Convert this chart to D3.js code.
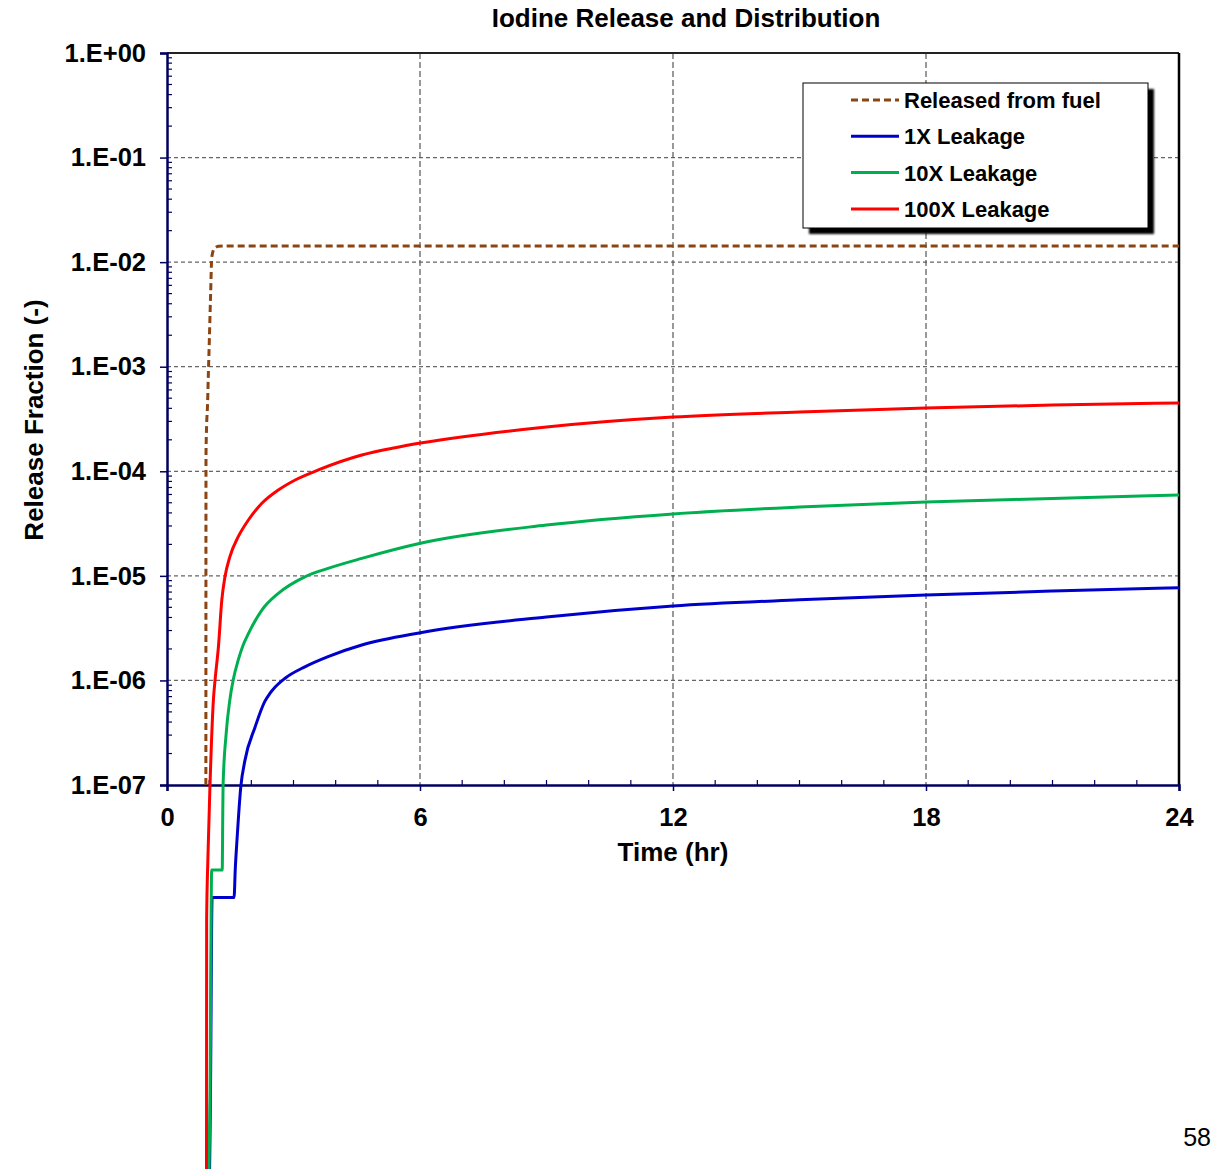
<!DOCTYPE html>
<html>
<head>
<meta charset="utf-8">
<script src="https://cdn.jsdelivr.net/npm/d3@7"></script>
<style>
  html, body { margin: 0; padding: 0; background: #fff; }
  svg { display: block; font-family: "Liberation Sans", Arial, sans-serif; }
</style>
</head>
<body>
<svg id="chart" width="1213" height="1169"></svg>
<script>
// ---- data ----
const chartTitle = "Iodine Release and Distribution";
const xTitle = "Time (hr)";
const yTitle = "Release Fraction (-)";
const xTicks = [0, 6, 12, 18, 24];
const yTicks = [1e-7, 1e-6, 1e-5, 1e-4, 1e-3, 1e-2, 1e-1, 1];
const yTickLabels = ["1.E-07", "1.E-06", "1.E-05", "1.E-04", "1.E-03", "1.E-02", "1.E-01", "1.E+00"];
const seriesNames = ["Released from fuel", "1X Leakage", "10X Leakage", "100X Leakage"];

// time (hr) / value pairs
const fuelT = [0.922, 0.925, 0.94, 0.96, 0.98, 1.003, 1.036, 1.06, 1.10, 1.15, 1.22, 1.33, 24];
const fuelV = [1e-7, 1.43e-4, 2.77e-4, 4.2e-4, 8.3e-4, 1.73e-3, 5.2e-3, 1.08e-2, 1.30e-2, 1.38e-2, 1.42e-2, 1.43e-2, 1.43e-2];

const x1T = [0.95, 1.03, 1.07, 1.59, 1.62, 1.66, 1.75, 1.85, 2.09, 2.32, 2.44, 2.56, 2.80, 3.27, 3.82, 4.62, 6.01, 9, 12, 15, 18, 21, 24];
const x1V = [1e-12, 1e-10, 8.4e-9, 8.4e-9, 1.6e-8, 2.98e-8, 9.6e-8, 1.73e-7, 3.59e-7, 6.3e-7, 7.5e-7, 8.6e-7, 1.05e-6, 1.35e-6, 1.69e-6, 2.18e-6, 2.86e-6, 4.04e-6, 5.15e-6, 5.9e-6, 6.56e-6, 7.15e-6, 7.7e-6];

const x10T = [0.95, 1.02, 1.06, 1.31, 1.32, 1.33, 1.40, 1.49, 1.57, 1.69, 1.80, 1.93, 2.25, 2.64, 3.27, 3.82, 4.62, 6.01, 9, 12, 15, 18, 21, 24];
const x10V = [1e-12, 1e-10, 1.54e-8, 1.54e-8, 4e-8, 1e-7, 3e-7, 6.5e-7, 1.01e-6, 1.57e-6, 2.15e-6, 2.8e-6, 4.71e-6, 6.81e-6, 9.8e-6, 1.18e-5, 1.47e-5, 2.05e-5, 3.06e-5, 3.91e-5, 4.55e-5, 5.08e-5, 5.5e-5, 5.93e-5];

const x100T = [0.935, 0.94, 0.97, 1.02, 1.10, 1.14, 1.22, 1.30, 1.375, 1.49, 1.69, 1.93, 2.25, 2.64, 3.04, 3.59, 4.62, 5.41, 6.01, 9, 12, 15, 18, 21, 24];
const x100V = [1e-12, 5.1e-9, 2e-8, 1e-7, 6.5e-7, 1.01e-6, 2.1e-6, 5.88e-6, 9.8e-6, 1.52e-5, 2.37e-5, 3.42e-5, 4.94e-5, 6.62e-5, 8.26e-5, 1.03e-4, 1.43e-4, 1.68e-4, 1.86e-4, 2.65e-4, 3.30e-4, 3.69e-4, 4.03e-4, 4.3e-4, 4.50e-4];

// ---- layout ----
const svg = d3.select("#chart");
const L = 167, R = 1179, T = 53, B = 785;
const x = d3.scaleLinear().domain([0, 24]).range([L, R]);
const y = d3.scaleLog().domain([1e-7, 1]).range([B, T]);
const navy = "#000060";
const FF = "Liberation Sans, Arial, sans-serif";

// title
svg.append("text").attr("x", 686).attr("y", 27).attr("text-anchor", "middle")
  .attr("font-size", 26).attr("font-weight", "bold").text(chartTitle);

// gridlines
const gridY = yTicks.filter(v => v > 1e-7 && v < 1);
svg.append("g").selectAll("line").data(gridY).join("line")
  .attr("x1", L).attr("x2", R).attr("y1", d => y(d)).attr("y2", d => y(d))
  .attr("stroke", "#666").attr("stroke-width", 1.2).attr("stroke-dasharray", "4,3");
svg.append("g").selectAll("line").data(xTicks.filter(v => v > 0 && v < 24)).join("line")
  .attr("y1", T).attr("y2", B).attr("x1", d => x(d)).attr("x2", d => x(d))
  .attr("stroke", "#555").attr("stroke-width", 1.2).attr("stroke-dasharray", "6,3");

// top and right border
svg.append("line").attr("x1", L).attr("x2", R).attr("y1", T).attr("y2", T).attr("stroke", "#222").attr("stroke-width", 2);
svg.append("line").attr("x1", R).attr("x2", R).attr("y1", T).attr("y2", B).attr("stroke", "#000").attr("stroke-width", 2.5);

// minor ticks
const minorY = [];
for (let e = -7; e < 0; e++) for (let m = 2; m <= 9; m++) minorY.push(m * Math.pow(10, e));
svg.append("g").selectAll("line").data(minorY).join("line")
  .attr("x1", L).attr("x2", L + 5).attr("y1", d => y(d)).attr("y2", d => y(d))
  .attr("stroke", navy).attr("stroke-width", 1.2);
const minorX = d3.range(1, 24).filter(v => v % 6 !== 0);
svg.append("g").selectAll("line").data(minorX).join("line")
  .attr("x1", d => x(d)).attr("x2", d => x(d)).attr("y1", B).attr("y2", B - 5)
  .attr("stroke", navy).attr("stroke-width", 1.2);

// axes
const yAxis = d3.axisLeft(y).tickValues(yTicks).tickFormat((d, i) => yTickLabels[i]).tickSize(7).tickPadding(14);
const gy = svg.append("g").attr("transform", `translate(${L},0)`).call(yAxis);
gy.select(".domain").attr("stroke", navy).attr("stroke-width", 2.5);
gy.selectAll(".tick line").attr("stroke", navy).attr("stroke-width", 1.5);
gy.selectAll(".tick text").attr("font-size", 25.5).attr("font-weight", "bold").attr("fill", "#000")
  .attr("font-family", FF);

const xAxis = d3.axisBottom(x).tickValues(xTicks).tickFormat(d3.format("d")).tickSize(6).tickPadding(17);
const gx = svg.append("g").attr("transform", `translate(0,${B})`).call(xAxis);
gx.select(".domain").attr("stroke", navy).attr("stroke-width", 2.5);
gx.selectAll(".tick line").attr("stroke", navy).attr("stroke-width", 1.5);
gx.selectAll(".tick text").attr("font-size", 25.5).attr("font-weight", "bold").attr("fill", "#000")
  .attr("font-family", FF);

// axis titles
svg.append("text").attr("x", 673).attr("y", 861).attr("text-anchor", "middle")
  .attr("font-size", 26).attr("font-weight", "bold").text(xTitle);
svg.append("text").attr("transform", "translate(43,420) rotate(-90)").attr("text-anchor", "middle")
  .attr("font-size", 26).attr("font-weight", "bold").text(yTitle);

// lines
const line = d3.line().x(d => x(d[0])).y(d => y(d[1])).curve(d3.curveMonotoneX);
const zip = (a, b) => a.map((t, i) => [t, b[i]]);
const series = [
  { t: x1T, v: x1V, color: "#0000CC", dash: null },
  { t: x10T, v: x10V, color: "#00B050", dash: null },
  { t: x100T, v: x100V, color: "#FF0000", dash: null },
  { t: fuelT, v: fuelV, color: "#8B4513", dash: "7,4" }
];
svg.append("g").selectAll("path").data(series).join("path")
  .attr("d", s => line(zip(s.t, s.v)))
  .attr("fill", "none").attr("stroke", s => s.color).attr("stroke-width", 3)
  .attr("stroke-dasharray", s => s.dash).attr("stroke-linejoin", "round");

// legend
const defs = svg.append("defs");
const f = defs.append("filter").attr("id", "blur").attr("x", "-10%").attr("y", "-10%").attr("width", "130%").attr("height", "130%");
f.append("feGaussianBlur").attr("stdDeviation", 1.2);
const lx = 803, ly = 83, lw = 345, lh = 145;
svg.append("rect").attr("x", lx + 6).attr("y", ly + 6).attr("width", lw).attr("height", lh)
  .attr("fill", "#000").attr("filter", "url(#blur)");
svg.append("rect").attr("x", lx).attr("y", ly).attr("width", lw).attr("height", lh)
  .attr("fill", "#fff").attr("stroke", "#000").attr("stroke-width", 1);
const legendItems = [
  { name: seriesNames[0], color: "#8B4513", dash: "7,4" },
  { name: seriesNames[1], color: "#0000CC", dash: null },
  { name: seriesNames[2], color: "#00B050", dash: null },
  { name: seriesNames[3], color: "#FF0000", dash: null }
];
const lg = svg.append("g").selectAll("g").data(legendItems).join("g")
  .attr("transform", (d, i) => `translate(0,${100 + i * 36.3})`);
lg.append("line").attr("x1", 851).attr("x2", 899).attr("y1", 0).attr("y2", 0)
  .attr("stroke", d => d.color).attr("stroke-width", 3).attr("stroke-dasharray", d => d.dash);
lg.append("text").attr("x", 904).attr("y", 8).attr("font-size", 22).attr("font-weight", "bold").text(d => d.name);

// page number
svg.append("text").attr("x", 1211).attr("y", 1146).attr("text-anchor", "end")
  .attr("font-size", 25).text("58");
</script>
</body>
</html>
